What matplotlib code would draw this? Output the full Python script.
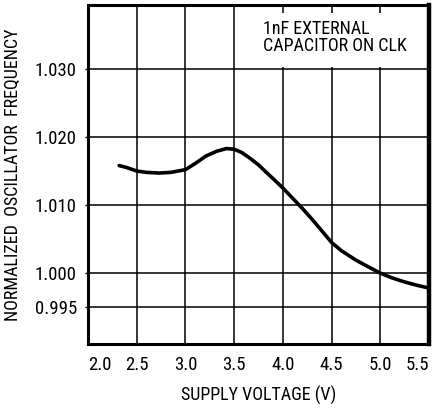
import matplotlib
matplotlib.use('Agg')
import matplotlib.pyplot as plt
from matplotlib.patches import Rectangle

# Datos (frecuencia normalizada vs. tensión de alimentación)
tension = [2.32, 2.4, 2.5, 2.6, 2.73, 2.85, 3.0, 3.1, 3.21, 3.32, 3.42, 3.5,
           3.58, 3.66, 3.75, 3.83, 3.92, 4.0, 4.1, 4.2, 4.3, 4.4, 4.5, 4.6,
           4.75, 4.88, 5.0, 5.12, 5.25, 5.38, 5.5]
frecuencia = [1.0158, 1.0155, 1.0150, 1.0148, 1.0147, 1.0148, 1.0152, 1.0161,
              1.0172, 1.0179, 1.0183, 1.0182, 1.0177, 1.0169, 1.0159, 1.0148,
              1.0136, 1.0125, 1.0110, 1.0095, 1.0079, 1.0062, 1.0045, 1.0033,
              1.0019, 1.0009, 1.0000, 0.9993, 0.9987, 0.9982, 0.9978]

xticks = [2.0, 2.5, 3.0, 3.5, 4.0, 4.5, 5.0, 5.5]
yticks = [0.995, 1.000, 1.010, 1.020, 1.030]
ytick_labels = ['0.995', '1.000', '1.010', '1.020', '1.030']

plt.rcParams['font.family'] = ['Liberation Sans Narrow', 'Roboto Condensed',
                               'Archivo Narrow', 'DejaVu Sans']

fig = plt.figure(figsize=(4.41, 4.08), dpi=100)
ax = fig.add_axes([0.1995, 0.157, 0.7735, 0.831])

ax.plot(tension, frecuencia, color='black', linewidth=2.6,
        solid_capstyle='round', solid_joinstyle='round', zorder=3)

ax.set_xlim(2.0, 5.5)
ax.set_ylim(0.9896, 1.0394)
ax.set_xticks(xticks)
ax.set_xticklabels([f'{v:.1f}' for v in xticks])
ax.set_yticks(yticks)
ax.set_yticklabels(ytick_labels)
ax.get_xticklabels()[0].set_horizontalalignment('left')
ax.get_xticklabels()[-1].set_horizontalalignment('right')

ax.grid(True, color='black', linewidth=1.1, zorder=1)
ax.set_axisbelow(True)
ax.tick_params(axis='both', labelsize=13.5, length=2, width=1, pad=6)
ax.tick_params(axis='x', length=0, pad=9)

for s in ax.spines.values():
    s.set_linewidth(2.2)
    s.set_zorder(5)
ax.spines['right'].set_linewidth(3.2)

ax.set_xlabel('SUPPLY VOLTAGE (V)', fontsize=13, labelpad=8)
ax.set_ylabel('NORMALIZED  OSCILLATOR  FREQUENCY', fontsize=13, labelpad=9)

# Caja blanca detrás de la nota (tapa la retícula)
ax.add_patch(Rectangle((0.46, 0.817), 0.54, 0.158, transform=ax.transAxes,
                       facecolor='white', edgecolor='none', zorder=2))
ax.text(0.513, 0.955, '1nF EXTERNAL\nCAPACITOR ON CLK', transform=ax.transAxes,
        fontsize=13, ha='left', va='top', linespacing=0.9, zorder=4)

fig.savefig('out.png', dpi=100)
